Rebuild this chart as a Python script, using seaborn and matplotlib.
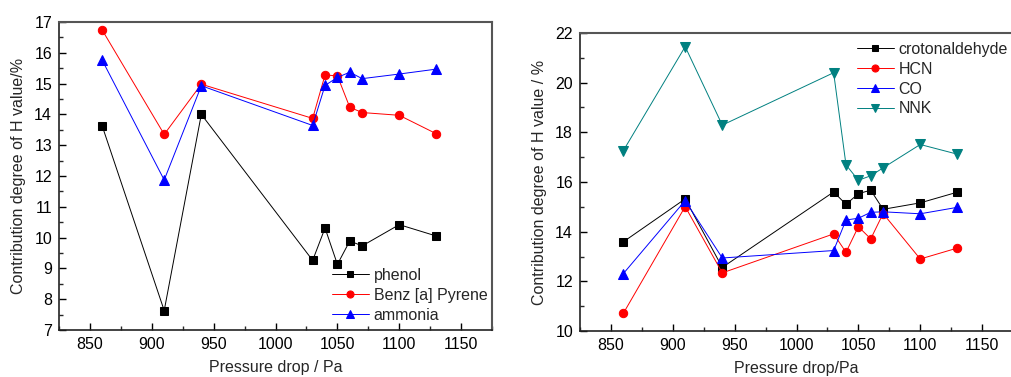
import matplotlib
matplotlib.use("Agg")
import matplotlib.pyplot as plt
import seaborn as sns
import pandas as pd
from matplotlib.ticker import MultipleLocator

sns.set_theme(style="ticks")
plt.rcParams['font.family'] = ['Liberation Sans', 'DejaVu Sans']

pressure = [860, 910, 940, 1030, 1040, 1050, 1060, 1070, 1100, 1130]

phenol = [13.61, 7.63, 14.0, 9.26, 10.31, 9.13, 9.89, 9.73, 10.42, 10.05]
benzapyrene = [16.73, 13.35, 14.98, 13.87, 15.28, 15.25, 14.23, 14.06, 13.97, 13.37]
ammonia = [15.75, 11.87, 14.93, 13.64, 14.94, 15.2, 15.37, 15.16, 15.31, 15.47]

crotonaldehyde = [13.59, 15.32, 12.56, 15.6, 15.1, 15.53, 15.67, 14.9, 15.16, 15.59]
hcn = [10.71, 15.01, 12.34, 13.91, 13.17, 14.2, 13.71, 14.73, 12.9, 13.34]
co = [12.31, 15.25, 12.94, 13.24, 14.47, 14.54, 14.78, 14.8, 14.72, 14.98]
nnk = [17.26, 21.45, 18.29, 20.4, 16.69, 16.07, 16.25, 16.57, 17.51, 17.12]

left_series = [("phenol", phenol, "black", "s", 5.5),
               ("Benz [a] Pyrene", benzapyrene, "#ff0000", "o", 6),
               ("ammonia", ammonia, "#0000ff", "^", 6.5)]
right_series = [("crotonaldehyde", crotonaldehyde, "black", "s", 5.5),
                ("HCN", hcn, "#ff0000", "o", 6),
                ("CO", co, "#0000ff", "^", 6.5),
                ("NNK", nnk, "#008080", "v", 6.5)]

fig = plt.figure(figsize=(10.11, 3.77), dpi=100)
ax1 = fig.add_axes([0.0584, 0.1247, 0.4283, 0.817])
ax2 = fig.add_axes([0.5737, 0.122, 0.4283, 0.7905])

def draw(ax, series):
    for name, vals, col, mk, ms in series:
        df = pd.DataFrame({"x": pressure, "y": vals})
        sns.lineplot(data=df, x="x", y="y", ax=ax, color=col, marker=mk,
                     markersize=ms, markeredgecolor=col, linewidth=0.7,
                     label=name, sort=False)
    ax.set_xlim(825, 1175)
    ax.xaxis.set_major_locator(MultipleLocator(50))
    ax.xaxis.set_minor_locator(MultipleLocator(25))
    ax.tick_params(axis='both', which='major', direction='in', length=5,
                   width=1, labelsize=11.5, colors='black', pad=5)
    ax.tick_params(axis='both', which='minor', direction='in', length=3, width=1)
    for s in ['left', 'bottom']:
        ax.spines[s].set_color('#222222')
        ax.spines[s].set_linewidth(1.2)
    for s in ['top', 'right']:
        ax.spines[s].set_color('#555555')
        ax.spines[s].set_linewidth(1.5)

leg_kw = dict(bbox_transform=fig.transFigure, frameon=False, fontsize=11.5,
              handlelength=2.3, handletextpad=0.3, labelspacing=0.3,
              borderpad=0, borderaxespad=0, markerscale=0.85, loc='upper left')

draw(ax1, left_series)
ax1.set_ylim(7, 17)
ax1.yaxis.set_major_locator(MultipleLocator(1))
ax1.yaxis.set_minor_locator(MultipleLocator(0.5))
ax1.set_xlabel("Pressure drop / Pa", fontsize=11.5, labelpad=6)
ax1.set_ylabel("Contribution degree of H value/%", fontsize=11.5, labelpad=6)
ax1.legend(bbox_to_anchor=(332 / 1011, 1 - 268 / 377), **leg_kw)

draw(ax2, right_series)
ax2.set_ylim(10, 22)
ax2.yaxis.set_major_locator(MultipleLocator(2))
ax2.yaxis.set_minor_locator(MultipleLocator(1))
ax2.set_xlabel("Pressure drop/Pa", fontsize=11.5, labelpad=6)
ax2.set_ylabel("Contribution degree of H value / %", fontsize=11.5, labelpad=6)
ax2.legend(bbox_to_anchor=(857 / 1011, 1 - 42 / 377), **leg_kw)

fig.savefig("out.png", dpi=100)
